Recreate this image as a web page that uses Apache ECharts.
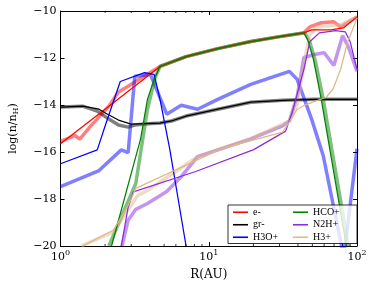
<!DOCTYPE html>
<html><head><meta charset="utf-8">
<script src="https://cdn.jsdelivr.net/npm/echarts@6/dist/echarts.min.js"></script>
<style>html,body{margin:0;padding:0;background:#fff}#c{width:374px;height:286px}</style>
</head><body><div id="c"></div>
<script>
// Data: [R (AU), log(n/nH)]
const eThin   = [[1,-15.65],[2.12,-14.05],[4.69,-12.36],[7.03,-11.94],[11.5,-11.6],[19.2,-11.3],[31.5,-11.07],[43.8,-10.93],[49.4,-10.80],[66.7,-10.80],[81,-10.72],[100,-10.25]];
const eThick  = [[1,-15.55],[1.25,-15.3],[1.35,-15.45],[1.57,-14.95],[2.12,-14.05],[2.46,-13.45],[2.86,-13.2],[3.5,-12.85],[4.69,-12.36],[7.03,-11.94],[11.5,-11.6],[19.2,-11.3],[31.5,-11.07],[43.8,-10.93],[48,-10.68],[57.4,-10.5],[69.8,-10.46],[77.5,-10.68],[100,-10.25]];
const grThin  = [[1,-14.09],[1.41,-14.05],[1.82,-14.18],[2.02,-14.35],[2.46,-14.64],[2.99,-14.81],[4.69,-14.77],[5.6,-14.68],[7.03,-14.47],[11.5,-14.18],[19.2,-13.88],[31.5,-13.8],[51.7,-13.76],[100,-13.76]];
const grThick = [[1,-14.09],[1.41,-14.05],[1.77,-14.26],[2.12,-14.6],[2.46,-14.85],[2.86,-14.94],[3.17,-14.85],[3.69,-14.81],[4.69,-14.77],[5.6,-14.68],[7.03,-14.47],[11.5,-14.18],[19.2,-13.88],[31.5,-13.8],[51.7,-13.76],[100,-13.76]];
const h3oThin = [[1,-16.5],[1.77,-15.91],[2.02,-14.81],[2.53,-13.0],[3.69,-12.62],[4.28,-12.7],[4.69,-13.76],[5.45,-15.86],[7.03,-20.0]];
const h3oThick= [[1,-17.47],[1.35,-17.13],[1.82,-16.79],[2.57,-15.91],[2.86,-16.03],[3.17,-12.78],[4.04,-12.7],[5.21,-14.39],[6.52,-14.01],[8.41,-14.18],[11.5,-13.76],[19.2,-13.12],[35,-12.57],[39.5,-12.91],[49.4,-14.6],[59.2,-16.16],[77.5,-19.79],[81,-20.4],[86.1,-19.24],[100,-15.86]];
const hcoThin = [[2.21,-20],[3.47,-15.44],[3.86,-13.76],[4.28,-12.91],[4.69,-12.36],[7.03,-11.94],[11.5,-11.6],[19.2,-11.3],[31.5,-11.07],[43.8,-10.93],[46.5,-11.22],[50.9,-12.07],[57.4,-13.76],[84.8,-20]];
const hcoThick= [[2.12,-20],[3.22,-17.34],[3.42,-16.29],[3.86,-14.18],[4.35,-12.83],[4.69,-12.36],[7.03,-11.94],[11.5,-11.6],[19.2,-11.3],[31.5,-11.07],[44.5,-10.93],[48,-11.31],[52.5,-12.15],[59.2,-13.76],[87.4,-20]];
const n2hThin = [[2.57,-20],[2.86,-18.35],[3.1,-17.7],[8.17,-16.83],[20.1,-15.9],[33,-15.11],[36.6,-14.3],[43.8,-12.49],[48,-11.31],[55.7,-10.93],[71.9,-10.84],[83.5,-10.89],[90,-11.31],[100,-12.49]];
const n2hThick= [[2.6,-20],[2.86,-18.9],[3.22,-18.44],[3.86,-18.19],[5.21,-17.68],[6.52,-17.05],[8.41,-16.2],[19.2,-15.44],[31.5,-14.89],[35,-14.68],[39.5,-13.63],[43.8,-11.98],[50.9,-11.86],[60,-11.77],[69.8,-12.32],[79.9,-11.05],[87.4,-11.52],[100,-12.57]];
const h3Thin  = [[1.41,-20],[2.28,-19.32],[2.86,-18.27],[3.22,-17.55],[12.2,-15.86],[31.5,-15.15],[35,-14.72],[39.5,-14.18],[45.8,-13.97],[61.9,-13.67],[68.8,-13.33],[77.5,-12.49],[86.1,-11.35],[97.1,-10.51],[100,-10.3]];
const h3Thick = [[1.38,-20],[2.28,-19.4],[2.86,-18.45],[3.32,-17.85],[3.86,-17.64],[8.41,-16.2],[19.2,-15.44],[35,-14.68],[39.5,-13.97],[44.5,-12.07],[48,-11.01],[53.3,-10.68],[77.5,-10.59],[100,-10.25]];
const legendNames = ['e-','gr-','H3O+','HCO+','N2H+','H3+'];
const minorTicks = [2,3,4,5,6,7,8,9,20,30,40,50,60,70,80,90];
const yTicks = {min:-20, max:-10, interval:2};

const colors = {'e-':'#ff0000','gr-':'#000000','H3O+':'#0000ff','HCO+':'#008000','N2H+':'#8a2be2','H3+':'#deb887'};
const thickSets = [['e-',eThick],['gr-',grThick],['H3O+',h3oThick],['HCO+',hcoThick],['N2H+',n2hThick],['H3+',h3Thick]];
const thinSets  = [['e-',eThin],['gr-',grThin],['H3O+',h3oThin],['HCO+',hcoThin],['N2H+',n2hThin],['H3+',h3Thin]];

const series = [];
thickSets.forEach(([n,d])=>series.push({name:n+' (2)',type:'line',data:d,symbol:'none',silent:true,
  lineStyle:{color:colors[n],width:3.5,opacity:0.5},itemStyle:{color:colors[n]},z:2}));
thinSets.forEach(([n,d])=>series.push({name:n,type:'line',data:d,symbol:'none',silent:true,
  lineStyle:{color:colors[n],width:1.25},itemStyle:{color:colors[n]},z:3}));
series.push({type:'custom',silent:true,data:minorTicks.map(v=>[v,-20]),z:5,clip:false,
  renderItem:function(params,api){
    const x = api.coord([api.value(0),-20])[0];
    const cs = params.coordSys; const yb = cs.y+cs.height, yt = cs.y;
    return {type:'group',children:[
      {type:'line',shape:{x1:x,y1:yb,x2:x,y2:yb-2},style:{stroke:'#000',lineWidth:0.8}},
      {type:'line',shape:{x1:x,y1:yt,x2:x,y2:yt+2},style:{stroke:'#000',lineWidth:0.8}}]};
  }});

const serif = 'DejaVu Serif';
const chart = echarts.init(document.getElementById('c'));
chart.setOption({
  animation:false,
  grid:{left:50,right:17,top:11,bottom:38},
  legend:{data:legendNames,orient:'vertical',left:228,top:205,height:38,itemGap:0,
    icon:'rect',itemWidth:15,itemHeight:1.6,padding:[1,4,0,5],
    borderColor:'#000',borderWidth:0.8,backgroundColor:'rgba(255,255,255,0.8)',
    textStyle:{fontFamily:'Liberation Serif',fontSize:10,color:'#000',lineHeight:12.5,width:40}},
  xAxis:[{type:'log',logBase:10,min:1,max:100,name:'R(AU)',nameLocation:'middle',nameGap:23,
    nameTextStyle:{fontFamily:serif,fontSize:12,color:'#000'},
    axisLine:{lineStyle:{color:'#000',width:1}},axisTick:{inside:true,length:4,lineStyle:{color:'#000'}},
    splitLine:{show:false},
    axisLabel:{margin:3,color:'#000',formatter:function(v){return '{b|10}{s|'+Math.round(Math.log10(v))+'}';},
      rich:{b:{fontFamily:serif,fontSize:11,lineHeight:14,verticalAlign:'bottom'},s:{fontFamily:serif,fontSize:8,lineHeight:8,verticalAlign:'top'}}}},
   {type:'log',logBase:10,min:1,max:100,position:'top',axisLine:{lineStyle:{color:'#000'}},
    axisTick:{inside:true,length:4,lineStyle:{color:'#000'}},axisLabel:{show:false},splitLine:{show:false}}],
  yAxis:[{type:'value',min:yTicks.min,max:yTicks.max,interval:yTicks.interval,
    name:'{a|log(n/n}{h|H}{a|)}',nameLocation:'middle',nameGap:41,nameRotate:90,
    nameTextStyle:{color:'#000',rich:{a:{fontFamily:serif,fontSize:11},h:{fontFamily:serif,fontSize:8,verticalAlign:'bottom',padding:[4,0,0,0]}}},
    axisLine:{show:true,lineStyle:{color:'#000'}},axisTick:{show:true,inside:true,length:4,lineStyle:{color:'#000'}},
    splitLine:{show:false},
    axisLabel:{margin:4,color:'#000',fontFamily:serif,fontSize:11,formatter:function(v){return v<0?'\u2212'+Math.abs(v):String(v);}}},
   {type:'value',min:yTicks.min,max:yTicks.max,interval:yTicks.interval,position:'right',
    axisLine:{show:true,lineStyle:{color:'#000'}},axisTick:{show:true,inside:true,length:4,lineStyle:{color:'#000'}},
    axisLabel:{show:false},splitLine:{show:false}}],
  series:series
});
</script></body></html>
